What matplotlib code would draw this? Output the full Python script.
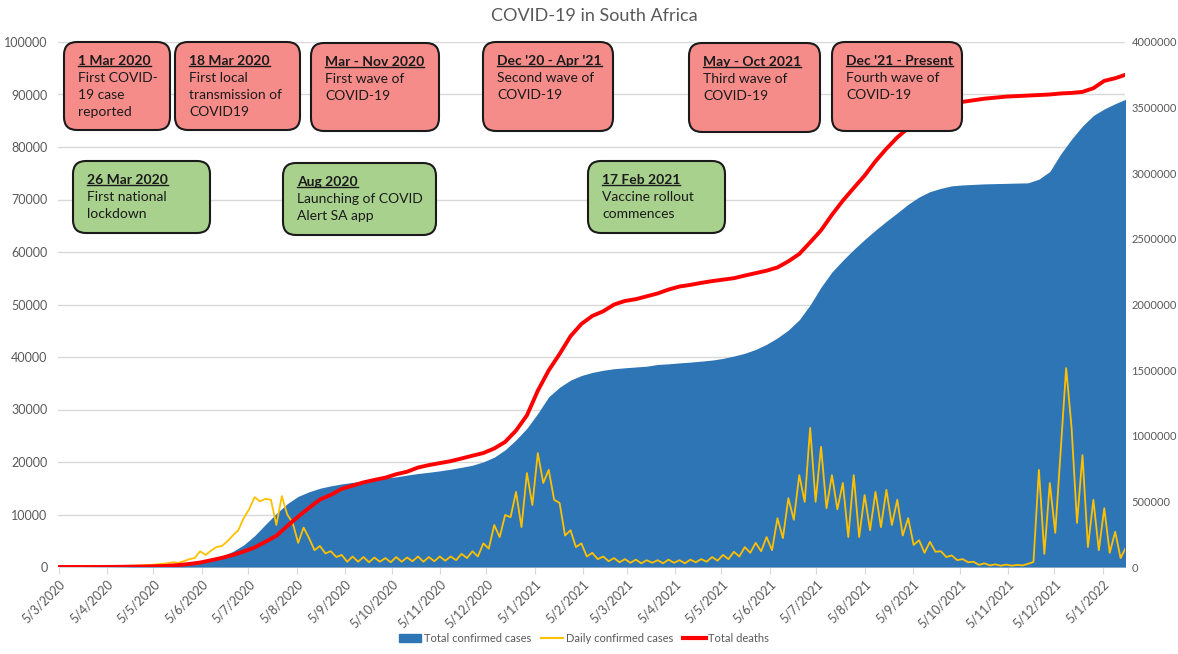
from datetime import datetime

import numpy as np
import pandas as pd
import matplotlib
matplotlib.use("Agg")
import matplotlib.pyplot as plt
from matplotlib.patches import FancyBboxPatch, Patch
from matplotlib.lines import Line2D
from matplotlib.ticker import StrMethodFormatter
from matplotlib.transforms import IdentityTransform

plt.rcParams["font.family"] = ["Lato", "DejaVu Sans"]

W, H = 1178, 654

# daily confirmed cases, one value every 3.5 days from 5 Mar 2020
DAILY_START = "2020-03-05"
DAILY_STEP_DAYS = 3.5
daily_cases = [
    1, 5, 10, 30, 50, 120, 200, 100,
    80, 100, 90, 80, 150, 200, 250, 300,
    350, 400, 500, 600, 700, 900, 800, 1100,
    1500, 1700, 3000, 2300, 3100, 3800, 4000, 4900,
    6000, 7000, 9300, 11000, 13300, 12500, 13000, 12800,
    8000, 13500, 10000, 8400, 4600, 7500, 5500, 3200,
    4000, 2600, 3000, 1900, 2300, 1000, 2000, 1000,
    1900, 900, 1800, 1000, 1700, 900, 1900, 1000,
    1800, 1100, 2000, 1000, 1900, 1100, 2000, 1200,
    2000, 1300, 2500, 1700, 3000, 2000, 4500, 3500,
    8000, 5700, 9900, 9500, 14300, 7600, 17900, 11800,
    21700, 16000, 18500, 12800, 12200, 6000, 7000, 3800,
    4500, 2000, 2700, 1500, 2000, 1100, 1700, 900,
    1500, 800, 1400, 700, 1300, 800, 1300, 700,
    1400, 800, 1300, 700, 1400, 900, 1500, 1000,
    1900, 1200, 2300, 1500, 2900, 2000, 3800, 2700,
    4600, 3000, 5700, 3200, 9300, 5500, 13100, 9000,
    17500, 12400, 26500, 12400, 22900, 11200, 17500, 11000,
    16000, 5700, 17500, 5700, 13700, 7000, 14300, 7600,
    14700, 8000, 12800, 6000, 9300, 4200, 5100, 2700,
    4800, 2900, 3000, 1900, 2200, 1300, 1500, 900,
    1000, 400, 700, 300, 500, 250, 450, 250,
    400, 300, 600, 950, 18500, 2500, 16000, 6500,
    22300, 37900, 26500, 8400, 21300, 3800, 12800, 3200,
    11200, 2700, 6700, 1700, 3800,
]

# cumulative totals, one value per week from 5 Mar 2020
TOTAL_START = "2020-03-05"
TOTAL_STEP_DAYS = 7
total_cases = [
    1, 17, 150, 927, 1462, 1934, 2605, 3953, 5647,
    8232, 12074, 19137, 27403, 40792, 58568, 83890, 118375,
    168061, 238339, 324221, 408052, 482169, 538184, 572865, 599940,
    618286, 633015, 644438, 655572, 668529, 677833, 686891, 700203,
    712412, 721770, 732414, 745049, 759658, 775502, 800872, 836764,
    892813, 968563, 1057161, 1170590, 1296806, 1369426, 1423578, 1458958,
    1482412, 1498766, 1510778, 1517666, 1524107, 1530033, 1543079, 1548157,
    1555144, 1560906, 1568366, 1576521, 1589293, 1607345, 1628187, 1657711,
    1696709, 1745709, 1805541, 1883632, 1997185, 2132304, 2247657, 2336700,
    2419000, 2495000, 2567000, 2634000, 2698000, 2764000, 2819000, 2860000,
    2885000, 2904000, 2911000, 2915000, 2919000, 2921000, 2923000, 2925000,
    2927000, 2955000, 3013000, 3147000, 3260000, 3360000, 3440000, 3490000,
    3530000, 3565000,
]
total_deaths = [
    0, 0, 0, 0, 5, 18, 48, 75, 103,
    153, 219, 369, 577, 848, 1284, 1737, 2292,
    2952, 3720, 4804, 5940, 7812, 9604, 11270, 12843,
    13743, 14889, 15499, 16118, 16586, 17016, 17673, 18151,
    18944, 19411, 19789, 20163, 20671, 21201, 21709, 22574,
    23827, 25983, 28887, 33579, 37449, 40574, 43951, 46290,
    47821, 48708, 49993, 50677, 51015, 51560, 52111, 52846,
    53423, 53736, 54125, 54452, 54735, 55012, 55507, 55976,
    56439, 57063, 58223, 59621, 61840, 64138, 67080, 69775,
    72191, 74550, 77285, 79670, 81830, 83600, 85400, 86500,
    87400, 88000, 88600, 88900, 89200, 89400, 89600, 89700,
    89800, 89900, 90000, 90200, 90300, 90500, 91200, 92600,
    93100, 93800,
]

tick_labels = [
    "5/3/2020", "5/4/2020", "5/5/2020", "5/6/2020", "5/7/2020", "5/8/2020",
    "5/9/2020", "5/10/2020", "5/11/2020", "5/12/2020", "5/1/2021", "5/2/2021",
    "5/3/2021", "5/4/2021", "5/5/2021", "5/6/2021", "5/7/2021", "5/8/2021",
    "5/9/2021", "5/10/2021", "5/11/2021", "5/12/2021", "5/1/2022",
]

events_headers = [
    "1 Mar 2020", "18 Mar 2020", "Mar - Nov 2020", "Dec '20 - Apr '21",
    "May - Oct 2021", "Dec '21 - Present",
    "26 Mar 2020", "Aug 2020", "17 Feb 2021",
]
events_texts = [
    "First COVID-\n19 case\nreported",
    "First local\ntransmission of\nCOVID19",
    "First wave of\nCOVID-19",
    "Second wave of\nCOVID-19",
    "Third wave of\nCOVID-19",
    "Fourth wave of\nCOVID-19",
    "First national\nlockdown",
    "Launching of COVID\nAlert SA app",
    "Vaccine rollout\ncommences",
]
events_kind = ["wave"] * 6 + ["milestone"] * 3

# box layout in image pixels (x0, y0 from top, x1, y1)
box_px = [
    (64, 42, 170, 130), (175, 42, 300, 130), (311, 43, 439, 131),
    (483, 42, 613, 131), (689, 43, 820, 132), (832, 42, 962, 131),
    (73, 161, 210, 233), (283, 163, 436, 235), (588, 161, 725, 233),
]
box_colors = {"wave": "#F68C8A", "milestone": "#A9D18E"}

BLUE = "#2E75B6"
YELLOW = "#FFC000"
RED = "#FF0000"
GREY = "#595959"

daily_dates = pd.Timestamp(DAILY_START) + pd.to_timedelta(
    np.arange(len(daily_cases)) * DAILY_STEP_DAYS, unit="D")
tdates = pd.Timestamp(TOTAL_START) + pd.to_timedelta(
    np.arange(len(total_cases)) * TOTAL_STEP_DAYS, unit="D")
tick_dates = [datetime.strptime(s, "%d/%m/%Y") for s in tick_labels]

fig = plt.figure(figsize=(W / 100, H / 100), dpi=100)
px_left, px_right, px_top, px_bottom = 58.5, 1124.5, 42, 567
ax = fig.add_axes([px_left / W, (H - px_bottom) / H,
                   (px_right - px_left) / W, (px_bottom - px_top) / H])

ax.set_xlim(pd.Timestamp("2020-03-05"), pd.Timestamp("2022-01-19"))
ax.set_ylim(0, 100000)
ax.set_yticks(np.arange(0, 100001, 10000))
ax.grid(axis="y", color="#D9D9D9", linewidth=1)
ax.set_axisbelow(True)
for s in ["top", "left", "right"]:
    ax.spines[s].set_visible(False)
ax.spines["bottom"].set_color("#D9D9D9")
ax.tick_params(axis="y", length=0, labelsize=9, labelcolor=GREY, pad=8)
ax.set_xticks(tick_dates)
ax.set_xticklabels(tick_labels, rotation=45, ha="right", rotation_mode="anchor")
ax.tick_params(axis="x", length=5, color="#D9D9D9", labelsize=9, labelcolor=GREY, pad=3)

# total cases on the secondary axis
axr = ax.twinx()
axr.fill_between(tdates, total_cases, color=BLUE, linewidth=0)
axr.set_ylim(0, 4000000)
axr.set_yticks(np.arange(0, 4000001, 500000))
axr.yaxis.set_major_formatter(StrMethodFormatter("{x:.0f}"))
axr.tick_params(axis="y", length=0, labelsize=8, labelcolor=GREY, pad=5)
for s in axr.spines.values():
    s.set_visible(False)
axr.patch.set_visible(False)

# lines drawn on top of the area, same scale as the left axis
axl = ax.twinx()
axl.set_ylim(0, 100000)
axl.plot(daily_dates, daily_cases, color=YELLOW, linewidth=1.3)
axl.plot(tdates, total_deaths, color=RED, linewidth=2.8, solid_capstyle="round")
axl.set_axis_off()
axl.patch.set_visible(False)

fig.text(594 / W, 1 - 16 / H, "COVID-19 in South Africa", ha="center", va="center",
         fontsize=13, color=GREY)

handles = [Patch(facecolor=BLUE, edgecolor=BLUE),
           Line2D([], [], color=YELLOW, linewidth=1.5),
           Line2D([], [], color=RED, linewidth=3)]
fig.legend(handles, ["Total confirmed cases", "Daily confirmed cases", "Total deaths"],
           loc="center", bbox_to_anchor=(584 / W, 16 / H), ncol=3, frameon=False,
           fontsize=8, labelcolor=GREY, handlelength=2.0, columnspacing=0.9,
           handletextpad=0.25)

ident = IdentityTransform()
headers = []
for head, body, kind, (x0, y0, x1, y1) in zip(events_headers, events_texts,
                                              events_kind, box_px):
    box = FancyBboxPatch((x0, H - y1), x1 - x0, y1 - y0,
                         boxstyle="round,pad=0,rounding_size=13",
                         facecolor=box_colors[kind], edgecolor="#1A1A1A",
                         linewidth=1.5, transform=ident, zorder=5)
    fig.add_artist(box)
    t = fig.text(x0 + 14, H - (y0 + 13), head, transform=ident, ha="left", va="top",
                 fontsize=10, fontweight="bold", color="#1A1A1A", zorder=6)
    headers.append(t)
    fig.text(x0 + 14, H - (y0 + 30), body, transform=ident, ha="left", va="top",
             fontsize=10, color="#1A1A1A", linespacing=1.5, zorder=6)

renderer = fig.canvas.get_renderer()
for t in headers:
    bb = t.get_window_extent(renderer)
    fig.add_artist(Line2D([bb.x0, bb.x1], [bb.y0 + 1, bb.y0 + 1], color="#1A1A1A",
                          linewidth=1.0, transform=ident, zorder=6))

fig.savefig("out.png", dpi=100)
